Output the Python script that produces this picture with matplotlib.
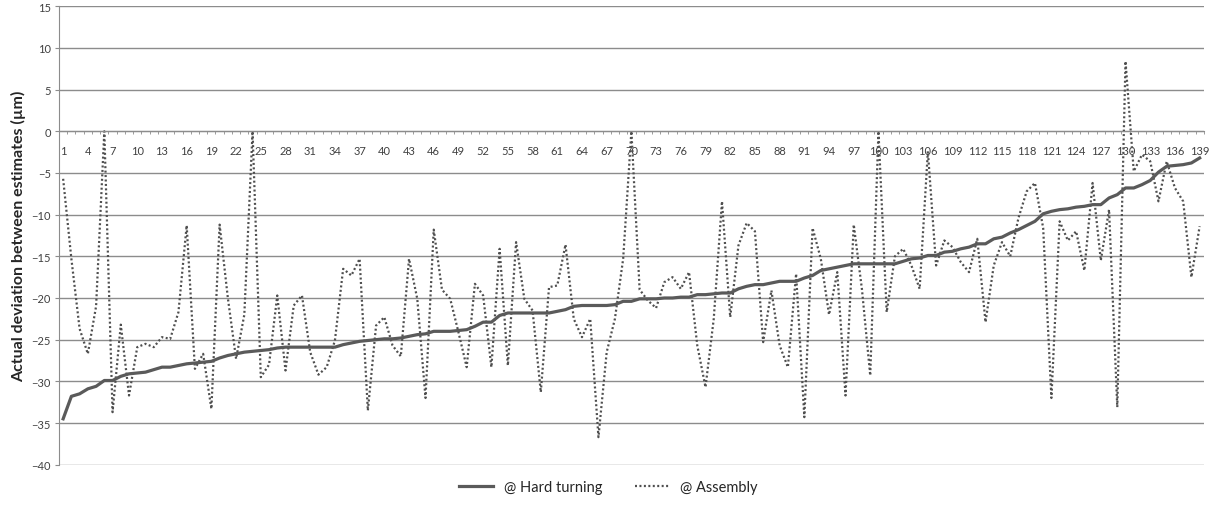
"""Deviation chart: hard turning vs assembly estimates."""
import matplotlib
matplotlib.use("Agg")
import matplotlib.pyplot as plt
import numpy as np
from matplotlib.ticker import FixedLocator

plt.rcParams['font.family'] = ['Lato', 'DejaVu Sans']

GRID = '#8c8c8c'
TEXT = '#404040'
LINE = '#5a5a5a'

# Values (µm), one per part, 139 parts
hard_turning = [
    -34.5, -31.8, -31.5, -30.9, -30.6, -29.9, -29.9, -29.4, -29.1, -29.0,
    -28.9, -28.6, -28.3, -28.3, -28.1, -27.9, -27.8, -27.7, -27.6, -27.2,
    -26.9, -26.7, -26.5, -26.4, -26.3, -26.2, -26.0, -25.9, -25.9, -25.9,
    -25.9, -25.9, -25.9, -25.9, -25.6, -25.4, -25.2, -25.1, -25.0, -24.9,
    -24.9, -24.8, -24.6, -24.4, -24.3, -24.0, -24.0, -24.0, -23.9, -23.8,
    -23.4, -22.9, -22.9, -22.1, -21.8, -21.8, -21.8, -21.8, -21.8, -21.8,
    -21.6, -21.4, -21.0, -20.9, -20.9, -20.9, -20.9, -20.8, -20.4, -20.4,
    -20.1, -20.1, -20.1, -20.0, -20.0, -19.9, -19.9, -19.6, -19.6, -19.5,
    -19.4, -19.4, -18.9, -18.6, -18.4, -18.4, -18.2, -18.0, -18.0, -18.0,
    -17.6, -17.3, -16.7, -16.5, -16.3, -16.1, -15.9, -15.9, -15.9, -15.9,
    -15.9, -15.9, -15.6, -15.3, -15.2, -14.9, -14.9, -14.5, -14.4, -14.1,
    -13.9, -13.5, -13.5, -12.9, -12.7, -12.2, -11.8, -11.3, -10.8, -9.9,
    -9.6, -9.4, -9.3, -9.1, -9.0, -8.8, -8.8, -8.0, -7.6, -6.8,
    -6.8, -6.4, -5.9, -4.9, -4.2, -4.1, -4.0, -3.8, -3.2,
]

assembly = [
    -5.7, -15.3, -23.7, -26.7, -21.0, 0.0, -33.7, -23.2, -31.7, -25.9,
    -25.5, -25.9, -24.7, -24.9, -21.7, -11.3, -28.5, -26.7, -33.3, -11.2,
    -20.0, -27.3, -22.0, 0.0, -29.5, -28.0, -19.7, -28.7, -20.9, -19.7,
    -26.5, -29.2, -28.3, -25.1, -16.5, -17.3, -15.3, -33.5, -23.3, -22.3,
    -25.7, -27.0, -15.3, -20.1, -32.0, -11.8, -19.0, -20.1, -24.1, -28.3,
    -18.3, -19.7, -28.3, -14.1, -28.1, -13.3, -20.1, -21.5, -31.3, -18.7,
    -18.5, -13.6, -22.5, -24.7, -22.5, -36.7, -26.5, -22.5, -15.3, 0.0,
    -19.0, -20.3, -21.2, -18.1, -17.5, -18.9, -16.9, -25.7, -30.7, -22.5,
    -8.4, -22.3, -13.7, -11.0, -12.0, -25.3, -19.1, -25.7, -28.3, -17.1,
    -34.3, -11.6, -15.3, -22.0, -16.9, -31.7, -11.2, -19.0, -29.3, 0.0,
    -21.7, -15.0, -14.1, -16.1, -18.9, -2.4, -16.1, -13.1, -13.9, -15.7,
    -16.9, -12.9, -22.9, -16.1, -13.3, -15.0, -10.4, -7.2, -6.2, -11.6,
    -32.0, -10.8, -13.1, -12.0, -16.7, -6.2, -15.5, -9.4, -33.1, 8.4,
    -4.8, -2.8, -3.6, -8.4, -3.6, -6.8, -8.4, -17.5, -11.4,
]

parts = np.arange(1, len(hard_turning) + 1)
y_ticks = list(range(-40, 20, 5))

fig = plt.figure(figsize=(12.12, 5.06), dpi=100)
ax = fig.add_axes([0.0487, 0.0797, 0.9445, 0.9059])

ax.plot(parts, hard_turning, color=LINE, linewidth=2.3, label='@ Hard turning',
        solid_joinstyle='round', zorder=3)
ax.plot(parts, assembly, color='#4f4f4f', linewidth=1.6, linestyle=(0, (0.9, 1.1)),
        label='@ Assembly', zorder=2)

ax.set_xlim(0.5, len(parts) + 0.5)
ax.set_ylim(-40, 15)

# horizontal gridlines
ax.set_yticks(y_ticks)
ax.yaxis.grid(True, color=GRID, linewidth=1.0)
ax.set_axisbelow(True)
ax.tick_params(axis='y', direction='out', length=3, color=GRID,
               labelsize=8, labelcolor=TEXT, pad=3)

# category axis crosses at zero
for side in ['top', 'right']:
    ax.spines[side].set_visible(False)
ax.spines['left'].set_color(GRID)
ax.spines['bottom'].set_position(('data', 0))
ax.spines['bottom'].set_color(GRID)
ax.xaxis.set_major_locator(FixedLocator(parts[::3]))
ax.set_xticklabels([str(p) for p in parts[::3]])
ax.xaxis.set_minor_locator(FixedLocator(np.arange(0.5, len(parts) + 1, 1)))
ax.tick_params(axis='x', which='major', length=0, labelsize=8,
               labelcolor=TEXT, pad=10)
ax.tick_params(axis='x', which='minor', direction='out', length=2.5,
               color=GRID)

ax.set_ylabel('Actual deviation between estimates (µm)', fontsize=11.5,
              fontweight='bold', color='#262626', labelpad=4)

fig.legend(loc='lower center', bbox_to_anchor=(0.502, -0.005), ncol=2,
           frameon=False, fontsize=10.5, handlelength=2.3, columnspacing=2.2,
           labelcolor='#262626')

fig.savefig('out.png', dpi=100, facecolor='white')
